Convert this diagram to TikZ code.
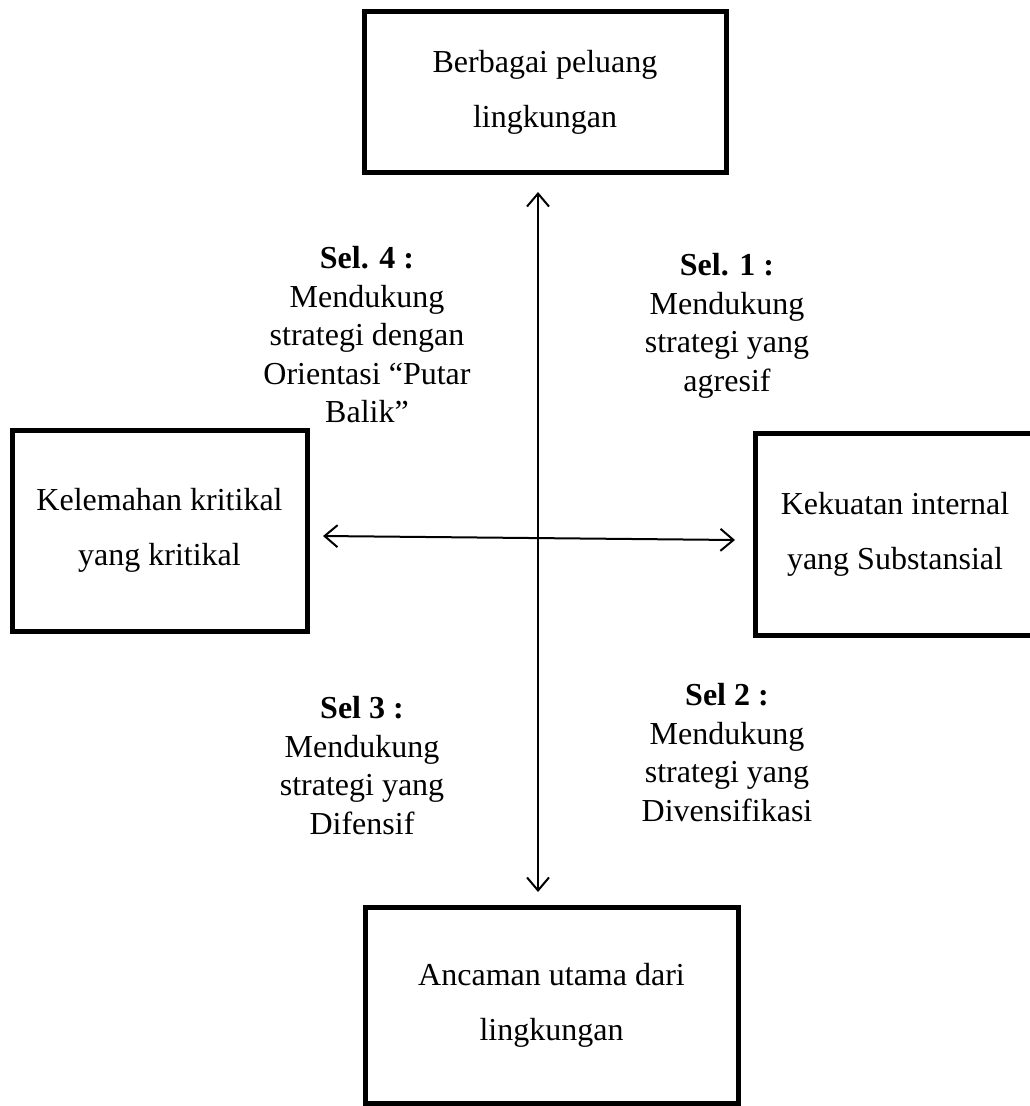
\documentclass[tikz,border=0pt]{standalone}
\usepackage{fontspec}
\setmainfont{Liberation Serif}
\usetikzlibrary{arrows.meta}
\begin{document}
\begin{tikzpicture}[x=0.5pt,y=-0.5pt,
  box/.style={draw, line width=2.5pt, inner sep=0pt, align=center, font=\fontsize{16}{27.5}\selectfont},
  lbl/.style={align=center, font=\fontsize{16}{19.25}\selectfont, inner sep=0pt},
  conn/.style={line width=1pt, {Straight Barb[length=6.5pt,width=11pt]}-{Straight Barb[length=6.5pt,width=11pt]}}]
\useasboundingbox (0,0) rectangle (1029,1106);
\node[box, minimum width=181pt, minimum height=80.5pt] (top) at (545,92.5) {Berbagai peluang\\lingkungan};
\node[box, minimum width=147.5pt, minimum height=100.5pt] (left) at (159.5,530.5) {Kelemahan kritikal\\yang kritikal};
\node[box, minimum width=140pt, minimum height=101pt] (right) at (895,534) {Kekuatan internal\\yang Substansial};
\node[box, minimum width=186.5pt, minimum height=98pt] (bottom) at (551.5,1005) {Ancaman utama dari\\lingkungan};
\node[lbl] (s4) at (367,335) {\textbf{Sel. 4 :}\\Mendukung\\strategi dengan\\Orientasi “Putar\\Balik”};
\node[lbl] (s1) at (727,326) {\textbf{Sel. 1 :}\\Mendukung\\strategi yang\\agresif};
\node[lbl] (s3) at (362,765.5) {\textbf{Sel 3 :}\\Mendukung\\strategi yang\\Difensif};
\node[lbl] (s2) at (727,752.5) {\textbf{Sel 2 :}\\Mendukung\\strategi yang\\Divensifikasi};
\coordinate (vt) at (538,192);
\coordinate (vb) at (538,892);
\coordinate (hl) at (323,536);
\coordinate (hr) at (735,540);
\draw[conn] (vt) -- (vb);
\draw[conn] (hl) -- (hr);
\end{tikzpicture}
\end{document}
